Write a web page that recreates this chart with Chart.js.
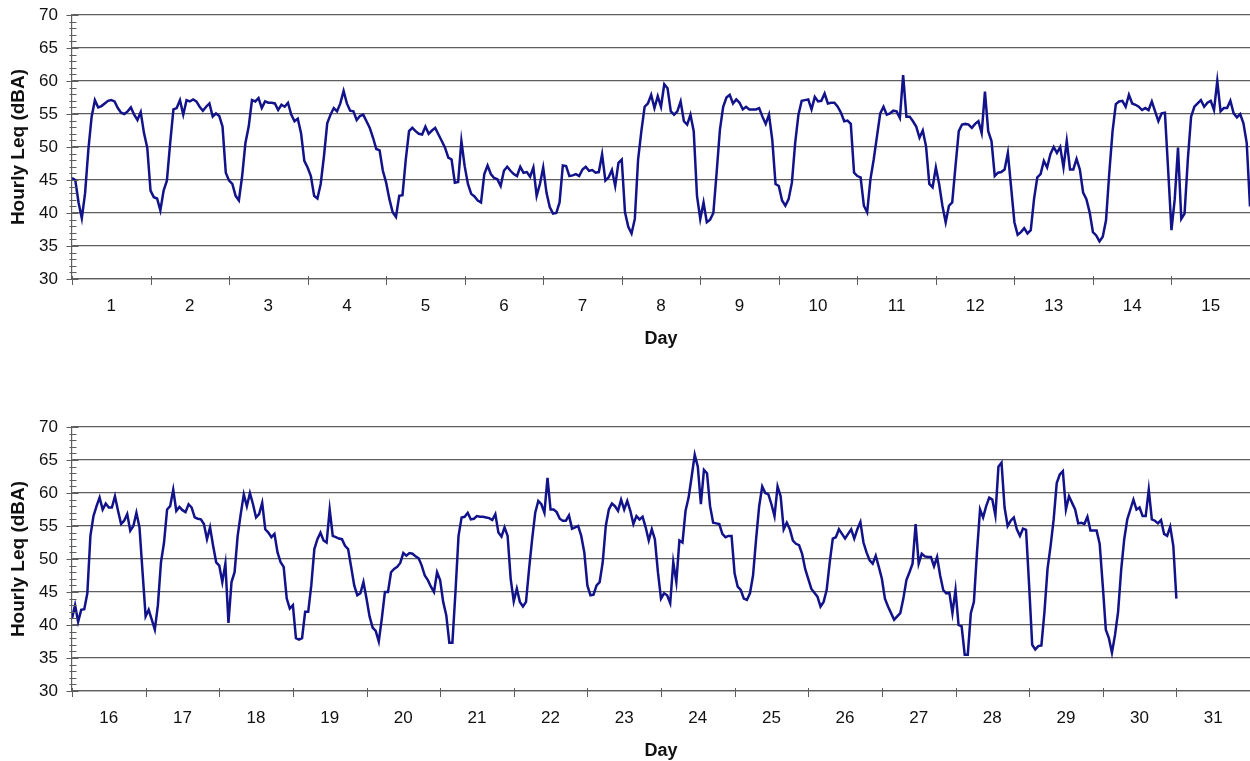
<!DOCTYPE html>
<html><head><meta charset="utf-8">
<script src="https://cdn.jsdelivr.net/npm/chart.js@4.4.1/dist/chart.umd.min.js"></script>
<style>
html,body{margin:0;padding:0;background:#fff;overflow:hidden;width:1250px;height:761px;}
.wrap{position:absolute;left:0;width:1250px;height:355px;}
canvas{display:block;}
</style></head><body>
<div class="wrap" style="top:0"><canvas id="c1" width="1250" height="355"></canvas></div>
<div class="wrap" style="top:412px"><canvas id="c2" width="1250" height="355"></canvas></div>
<script>
// Hourly Leq (dBA), 24 values per day (hour 0..23)
const day1  = [45.3,45,41.6,39.2,43,49.6,54.6,57.1,56,56.2,56.6,57,57.1,56.9,55.9,55.2,55,55.4,56,54.9,54.1,55.3,52.1,49.9];
const day2  = [43.4,42.4,42.2,40.4,43.4,44.9,50.6,55.7,55.9,57.1,54.9,57.1,56.9,57.2,56.9,56.1,55.5,56.1,56.6,54.6,55.1,54.7,53.1,46.1];
const day3  = [44.9,44.4,42.6,41.9,45.6,50.6,53.1,57.1,56.9,57.4,55.9,56.9,56.7,56.7,56.6,55.6,56.4,56.1,56.7,54.9,53.9,54.3,52.1,47.9];
const day4  = [46.9,45.6,42.6,42.2,44.4,48.6,53.6,54.9,55.9,55.4,56.6,58.5,56.6,55.5,55.4,54.1,54.7,54.9,53.9,52.9,51.4,49.7,49.5,46.4];
const day5  = [44.6,42.1,40.1,39.4,42.6,42.7,48.1,52.4,52.9,52.4,52,51.9,53.1,52,52.5,52.9,51.9,50.9,49.9,48.4,48.1,44.6,44.7,50.9];
const day6  = [47.1,44.4,42.9,42.5,41.9,41.6,45.9,47.2,45.9,45.3,45.1,44.1,46.4,47,46.4,45.9,45.6,47,46.1,46.2,45.5,46.9,42.6,44.4];
const day7  = [46.9,43.1,40.9,39.9,40,41.6,47.2,47.1,45.6,45.7,45.9,45.6,46.6,47,46.4,46.5,46.1,46.2,48.9,44.9,45.4,46.5,44.1,47.6];
const day8  = [48.1,40.1,37.9,36.9,39.1,48.1,52.4,56.1,56.6,57.9,55.9,57.7,56.1,59.5,58.9,55.4,54.9,55.4,56.9,53.9,53.4,54.9,52.4,42.6];
const day9  = [39.1,41.6,38.6,39,40,46.1,52.6,56.1,57.5,57.9,56.6,57.2,56.7,55.7,56.1,55.7,55.7,55.7,55.9,54.6,53.5,54.9,51.1,44.4];
const day10 = [44.1,41.9,41.1,42.1,44.6,50.6,54.9,57,57.1,57.2,55.7,57.6,56.9,57,58.1,56.6,56.7,56.7,56.1,55.2,53.9,54,53.5,46.1];
const day11 = [45.6,45.4,41.1,40.1,45.1,48.1,51.6,55.1,56.1,54.9,55.1,55.5,55.4,54.4,60.9,54.6,54.6,53.9,53.1,51.4,52.5,50.1,44.4,43.9];
const day12 = [46.9,44.4,41.1,38.6,41.1,41.6,47.1,52.4,53.4,53.5,53.4,52.9,53.5,53.9,52.1,58.4,52.4,50.9,45.6,46.1,46.2,46.6,49.1,43.9];
const day13 = [38.6,36.7,37.1,37.7,36.9,37.4,42.1,45.4,45.9,47.9,46.9,48.9,50,49.1,50,46.9,50.9,46.6,46.6,48.2,46.6,43.1,42.1,40.1];
const day14 = [37.1,36.6,35.7,36.4,38.9,46.1,52.4,56.5,56.9,57,56.1,57.9,56.6,56.4,56.1,55.6,55.9,55.6,56.9,55.4,53.9,55.1,55.2,46.4];
const day15 = [37.4,42.1,49.9,39.1,39.9,48.1,54.6,56.1,56.6,57.1,56.1,56.7,57,55.6,60,55.4,55.9,55.9,57,55.1,54.5,55,53.6,50.6];
const day16 = [41,43,40.5,42.3,42.4,44.8,53.5,56.5,58,59.3,57.5,58.4,57.8,57.8,59.5,57.3,55.3,55.8,56.8,54.3,55,57,54.8,48];
const day17 = [41.3,42.3,40.8,39.3,43,49.5,52.5,57.5,58,60.5,57.3,57.9,57.4,57.1,58.3,57.8,56.3,56.1,56,55.3,53,54.8,52,49.5];
const day18 = [49,46.5,49.3,40.3,46.5,48,53.5,56.8,59.8,58,60,58.3,56.3,56.8,58.5,54.5,54,53.3,53.8,51,49.5,48.8,44,42.5];
const day19 = [43,38,37.8,38,42,42,46,51.5,53,54,52.8,52.5,57.5,53.5,53.3,53.1,53,52,51.5,48.8,46,44.5,44.8,46.5];
const day20 = [44,41.3,39.6,39.1,37.5,41,45,45,48,48.5,48.8,49.4,50.9,50.5,50.9,50.8,50.4,50.1,49,47.5,46.8,45.8,45,48];
const day21 = [46.8,43.5,41.5,37.3,37.3,45,53.5,56.3,56.4,57,56,56.1,56.5,56.4,56.4,56.3,56.2,55.9,56.8,54,53.4,54.8,53.5,47];
const day22 = [43.6,45.5,43.5,42.8,43.5,48.5,53,57,58.8,58.3,57,62.3,57.5,57.5,57.1,56.1,55.8,55.8,56.6,54.6,54.8,55,53.5,51];
const day23 = [46,44.5,44.6,46,46.5,49.5,55,57.5,58.4,58,57.3,59,57.5,58.8,57.3,55.3,56.5,56,56.4,54.8,52.8,54.5,53,48];
const day24 = [44,44.8,44.5,43.3,49.5,46.5,52.8,52.5,57.3,59.3,62.5,65.8,64,58.3,63.5,63,58,55.5,55.4,55.3,53.8,53.3,53.5,53.5];
const day25 = [47.8,45.8,45.3,44,43.8,44.8,47.5,53,58,61,60,59.8,58.3,56.5,61,59.5,54.5,55.5,54.5,52.8,52.3,52.1,50.8,48.5];
const day26 = [47,45.5,44.9,44.3,42.8,43.5,45.3,49.5,53.1,53.3,54.5,53.8,53.1,53.8,54.5,53.1,54.5,55.6,52.5,51,49.8,49.3,50.5,48.8];
const day27 = [47,44,42.8,41.8,40.8,41.3,41.8,44,46.8,48,49.3,55.3,49.3,50.8,50.4,50.3,50.3,48.9,50.3,47.5,45.3,44.8,44.9,41.8];
const day28 = [45.3,40,39.8,35.5,35.5,41.8,43.5,51,57.5,56.3,58,59.3,59,56.6,64,64.6,57.8,55,55.8,56.3,54.5,53.5,54.6,54.4];
const day29 = [46,37,36.3,36.8,36.9,42,48.5,52,56,61.5,62.8,63.3,57.5,59.5,58.5,57.5,55.4,55.5,55.3,56.4,54.3,54.3,54.3,52.3];
const day30 = [46,39.3,38,35.8,38.5,42,48.3,53,56,57.5,59,57.5,57.8,56.5,56.5,60.5,56,55.8,55.4,55.9,53.8,53.5,54.9,52];
const day31 = [44];

const topDays    = [1,2,3,4,5,6,7,8,9,10,11,12,13,14,15];
const bottomDays = [16,17,18,19,20,21,22,23,24,25,26,27,28,29,30,31];
const topSeries    = [day1,day2,day3,day4,day5,day6,day7,day8,day9,day10,day11,day12,day13,day14,day15,day16];
const bottomSeries = [day16,day17,day18,day19,day20,day21,day22,day23,day24,day25,day26,day27,day28,day29,day30,day31];
const yTicks = [30,35,40,45,50,55,60,65,70];
const yMin = 30, yMax = 70;

const LINE = '#12128a';
const GRID = '#5e5e5e';
const FONT = '"Liberation Sans", Arial, sans-serif';

function buildPoints(days, series) {
  const pts = [];
  const lastDay = days[days.length - 1];
  series.forEach((vals, i) => {
    const d = days[0] + i;
    const hours = (d > lastDay) ? 1 : vals.length; // trailing day contributes only its hour 0
    for (let h = 0; h < hours && h < vals.length; h++) {
      pts.push({x: d - 0.5 + h / 24, y: vals[h]});
    }
  });
  return pts;
}

const tickMarks = {
  id: 'tickMarks',
  afterDraw(chart) {
    const ctx = chart.ctx, xs = chart.scales.x, ys = chart.scales.y;
    const ax = Math.round(chart.chartArea.left) + 0.5;
    ctx.save();
    ctx.strokeStyle = GRID; ctx.lineWidth = 1;
    for (let v = yMin; v <= yMax; v++) {
      const y = Math.round(ys.getPixelForValue(v)) + 0.5;
      const major = v % 5 === 0;
      ctx.beginPath(); ctx.moveTo(ax - (major ? 6 : 3), y); ctx.lineTo(ax + (major ? 6 : 4), y); ctx.stroke();
    }
    const by = Math.round(chart.chartArea.bottom);
    for (let b = xs.min; b <= xs.max + 0.001; b++) {
      const x = Math.round(xs.getPixelForValue(b)) + 0.5;
      ctx.beginPath(); ctx.moveTo(x, by - 3); ctx.lineTo(x, by + 6); ctx.stroke();
    }
    ctx.restore();
  }
};

function makeChart(id, days, series) {
  const ctx = document.getElementById(id);
  return new Chart(ctx, {
    type: 'line',
    data: {
      datasets: [{
        data: buildPoints(days, series),
        borderColor: LINE,
        borderWidth: 2.5,
        pointRadius: 0,
        tension: 0,
        fill: false
      }]
    },
    options: {
      responsive: false,
      animation: false,
      devicePixelRatio: 1,
      layout: {padding: {top: 15, left: 0, right: 0, bottom: 0}},
      plugins: {legend: {display: false}, tooltip: {enabled: false}},
      scales: {
        x: {
          type: 'linear',
          min: days[0] - 0.5,
          max: days[days.length - 1] + 0.5,
          afterBuildTicks: s => { s.ticks = days.map(d => ({value: d})); },
          ticks: {
            autoSkip: false, maxRotation: 0, padding: 17,
            color: '#111', font: {family: FONT, size: 17},
            callback: v => String(v)
          },
          grid: {display: false, drawTicks: false},
          border: {display: true, color: GRID, width: 1.2},
          title: {display: true, text: 'Day', color: '#111',
                  font: {family: FONT, size: 18, weight: 'bold'}, padding: {top: 0, bottom: 5}},
          afterFit: s => { s.height = 76; s.paddingLeft = 0; s.paddingRight = 0; }
        },
        y: {
          min: yMin, max: yMax,
          afterBuildTicks: s => { s.ticks = yTicks.map(v => ({value: v})); },
          ticks: {padding: 14, color: '#111', font: {family: FONT, size: 17}},
          grid: {color: GRID, lineWidth: 1.2, drawTicks: false},
          border: {display: true, color: GRID, width: 1.2},
          title: {display: true, text: 'Hourly Leq (dBA)', color: '#111',
                  font: {family: FONT, size: 19, weight: 'bold'}, padding: {top: 7, bottom: 0}},
          afterFit: s => { s.width = 72; s.paddingTop = 0; s.paddingBottom = 0; }
        }
      }
    },
    plugins: [tickMarks]
  });
}

makeChart('c1', topDays, topSeries);
makeChart('c2', bottomDays, bottomSeries);
</script>
</body></html>
